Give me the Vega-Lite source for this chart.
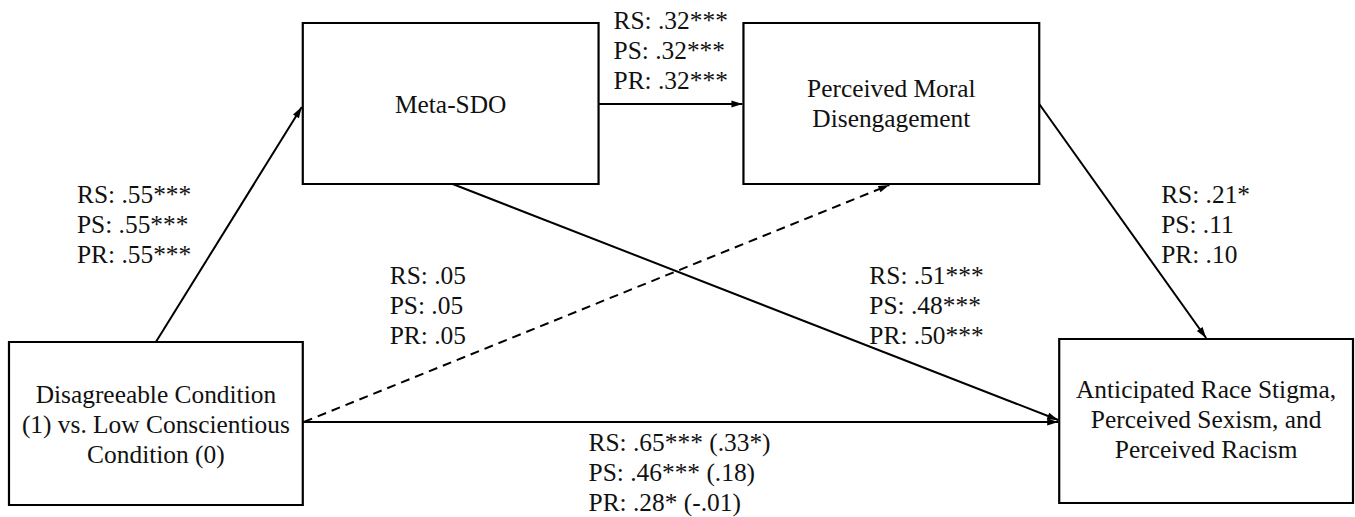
{
  "$schema": "https://vega.github.io/schema/vega-lite/v6.json",
  "width": 1355,
  "height": 517,
  "autosize": {"type": "fit", "contains": "padding"},
  "padding": 0,
  "background": "white",
  "config": {"view": {"stroke": null}},
  "datasets": {
    "boxes": [
      {"node": "Meta-SDO", "x1": 303, "x2": 599, "y1": 23, "y2": 184},
      {"node": "Perceived Moral Disengagement", "x1": 744, "x2": 1040, "y1": 23, "y2": 184},
      {"node": "Condition", "x1": 9, "x2": 303, "y1": 342, "y2": 505},
      {"node": "Outcomes", "x1": 1060, "x2": 1354, "y1": 339, "y2": 503}
    ],
    "paths": [
      {"from": "Condition", "to": "Meta-SDO", "x1": 156, "y1": 342, "x2": 302, "y2": 107, "sig": true},
      {"from": "Meta-SDO", "to": "Perceived Moral Disengagement", "x1": 599, "y1": 104, "x2": 743, "y2": 104, "sig": true},
      {"from": "Perceived Moral Disengagement", "to": "Outcomes", "x1": 1040, "y1": 104, "x2": 1207, "y2": 338, "sig": true},
      {"from": "Meta-SDO", "to": "Outcomes", "x1": 453, "y1": 184, "x2": 1059, "y2": 420, "sig": true},
      {"from": "Condition", "to": "Outcomes", "x1": 303, "y1": 422, "x2": 1059, "y2": 422, "sig": true},
      {"from": "Condition", "to": "Perceived Moral Disengagement", "x1": 304, "y1": 422, "x2": 890, "y2": 185, "sig": false}
    ],
    "labels": [
      {"node": "Meta-SDO", "x": 451, "y": 113, "lines": ["Meta-SDO"]},
      {"node": "Perceived Moral Disengagement", "x": 892, "y": 97, "lines": ["Perceived Moral", "Disengagement"]},
      {"node": "Condition", "x": 156, "y": 403, "lines": ["Disagreeable Condition", "(1) vs. Low Conscientious", "Condition (0)"]},
      {"node": "Outcomes", "x": 1207, "y": 398, "lines": ["Anticipated Race Stigma,", "Perceived Sexism, and", "Perceived Racism"]}
    ],
    "coefs": [
      {"path": "Condition -> Meta-SDO", "x": 77, "y": 203, "lines": ["RS: .55***", "PS: .55***", "PR: .55***"]},
      {"path": "Meta-SDO -> PMD", "x": 614, "y": 29, "lines": ["RS: .32***", "PS: .32***", "PR: .32***"]},
      {"path": "PMD -> Outcomes", "x": 1162, "y": 203, "lines": ["RS: .21*", "PS: .11", "PR: .10"]},
      {"path": "Condition -> PMD", "x": 390, "y": 284, "lines": ["RS: .05", "PS: .05", "PR: .05"]},
      {"path": "Meta-SDO -> Outcomes", "x": 870, "y": 284, "lines": ["RS: .51***", "PS: .48***", "PR: .50***"]},
      {"path": "Condition -> Outcomes", "x": 589, "y": 451, "lines": ["RS: .65*** (.33*)", "PS: .46*** (.18)", "PR: .28* (-.01)"]}
    ]
  },
  "layer": [
    {
      "data": {"name": "boxes"},
      "mark": {"type": "rect", "fill": "white", "stroke": "black", "strokeWidth": 2.2},
      "encoding": {
        "x": {"field": "x1", "type": "quantitative", "scale": {"domain": [0, 1355], "nice": false, "zero": false}, "axis": null},
        "x2": {"field": "x2"},
        "y": {"field": "y1", "type": "quantitative", "scale": {"domain": [0, 517], "nice": false, "zero": false, "reverse": true}, "axis": null},
        "y2": {"field": "y2"}
      }
    },
    {
      "data": {"name": "paths"},
      "transform": [{"filter": "datum.sig"}],
      "mark": {"type": "rule", "color": "black", "strokeWidth": 2},
      "encoding": {
        "x": {"field": "x1", "type": "quantitative"},
        "x2": {"field": "x2"},
        "y": {"field": "y1", "type": "quantitative"},
        "y2": {"field": "y2"}
      }
    },
    {
      "data": {"name": "paths"},
      "transform": [{"filter": "!datum.sig"}],
      "mark": {"type": "rule", "color": "black", "strokeWidth": 2, "strokeDash": [9, 6]},
      "encoding": {
        "x": {"field": "x1", "type": "quantitative"},
        "x2": {"field": "x2"},
        "y": {"field": "y1", "type": "quantitative"},
        "y2": {"field": "y2"}
      }
    },
    {
      "data": {"name": "paths"},
      "transform": [{"calculate": "atan2(datum.x2 - datum.x1, datum.y1 - datum.y2) * 180 / PI", "as": "heading"}],
      "mark": {"type": "point", "shape": "M0,0L0.7,2.2L-0.7,2.2Z", "filled": true, "color": "black", "size": 100, "opacity": 1, "strokeWidth": 0},
      "encoding": {
        "x": {"field": "x2", "type": "quantitative"},
        "y": {"field": "y2", "type": "quantitative"},
        "angle": {"field": "heading", "type": "quantitative", "scale": null}
      }
    },
    {
      "data": {"name": "labels"},
      "mark": {"type": "text", "align": "center", "baseline": "alphabetic", "font": "Liberation Serif", "fontSize": 25.4, "lineHeight": 30, "color": "#111111"},
      "encoding": {
        "x": {"field": "x", "type": "quantitative"},
        "y": {"field": "y", "type": "quantitative"},
        "text": {"field": "lines"}
      }
    },
    {
      "data": {"name": "coefs"},
      "mark": {"type": "text", "align": "left", "baseline": "alphabetic", "font": "Liberation Serif", "fontSize": 25.4, "lineHeight": 30, "color": "#111111"},
      "encoding": {
        "x": {"field": "x", "type": "quantitative"},
        "y": {"field": "y", "type": "quantitative"},
        "text": {"field": "lines"}
      }
    }
  ]
}
